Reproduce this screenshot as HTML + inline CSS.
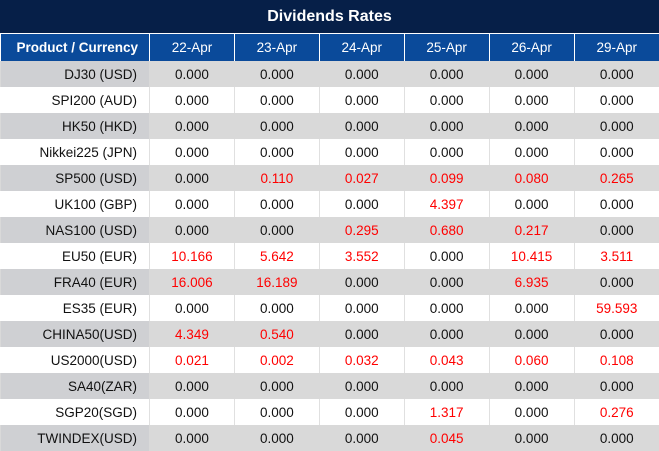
<!DOCTYPE html><html><head><style>
body{margin:0;width:659px;height:451px;overflow:hidden;font-family:"Liberation Sans",sans-serif;background:#fff}
.t{height:34px;background:#061f48;color:#fff;font-weight:bold;font-size:16px;text-align:center;line-height:34px;border-bottom:1px solid #fff;box-sizing:border-box}
table{border-collapse:collapse;table-layout:fixed;width:659px}
td{height:26px;padding:0;font-size:13.5px;text-align:center;border-left:1px solid #e0e0e0;color:#111}
td:first-child{text-align:right;padding-right:12px;border-left:none;width:137px}
tr.h td{background:#0a4a9a;color:#fff;height:27px;border-left:1px solid #fff}
tr.h td:first-child{font-weight:bold;padding-right:11px}
tr.g td{background:#d9d9d9;border-left:1px solid #d9d9d9}
tr.g td:first-child{background:#cfd0d3}
.r{color:#f00}
</style></head><body>
<div class="t">Dividends Rates</div>
<table>
<tr class="h"><td>Product / Currency</td><td>22-Apr</td><td>23-Apr</td><td>24-Apr</td><td>25-Apr</td><td>26-Apr</td><td>29-Apr</td></tr>
<tr class="g"><td>DJ30 (USD)</td><td>0.000</td><td>0.000</td><td>0.000</td><td>0.000</td><td>0.000</td><td>0.000</td></tr>
<tr><td>SPI200 (AUD)</td><td>0.000</td><td>0.000</td><td>0.000</td><td>0.000</td><td>0.000</td><td>0.000</td></tr>
<tr class="g"><td>HK50 (HKD)</td><td>0.000</td><td>0.000</td><td>0.000</td><td>0.000</td><td>0.000</td><td>0.000</td></tr>
<tr><td>Nikkei225 (JPN)</td><td>0.000</td><td>0.000</td><td>0.000</td><td>0.000</td><td>0.000</td><td>0.000</td></tr>
<tr class="g"><td>SP500 (USD)</td><td>0.000</td><td class="r">0.110</td><td class="r">0.027</td><td class="r">0.099</td><td class="r">0.080</td><td class="r">0.265</td></tr>
<tr><td>UK100 (GBP)</td><td>0.000</td><td>0.000</td><td>0.000</td><td class="r">4.397</td><td>0.000</td><td>0.000</td></tr>
<tr class="g"><td>NAS100 (USD)</td><td>0.000</td><td>0.000</td><td class="r">0.295</td><td class="r">0.680</td><td class="r">0.217</td><td>0.000</td></tr>
<tr><td>EU50 (EUR)</td><td class="r">10.166</td><td class="r">5.642</td><td class="r">3.552</td><td>0.000</td><td class="r">10.415</td><td class="r">3.511</td></tr>
<tr class="g"><td>FRA40 (EUR)</td><td class="r">16.006</td><td class="r">16.189</td><td>0.000</td><td>0.000</td><td class="r">6.935</td><td>0.000</td></tr>
<tr><td>ES35 (EUR)</td><td>0.000</td><td>0.000</td><td>0.000</td><td>0.000</td><td>0.000</td><td class="r">59.593</td></tr>
<tr class="g"><td>CHINA50(USD)</td><td class="r">4.349</td><td class="r">0.540</td><td>0.000</td><td>0.000</td><td>0.000</td><td>0.000</td></tr>
<tr><td>US2000(USD)</td><td class="r">0.021</td><td class="r">0.002</td><td class="r">0.032</td><td class="r">0.043</td><td class="r">0.060</td><td class="r">0.108</td></tr>
<tr class="g"><td>SA40(ZAR)</td><td>0.000</td><td>0.000</td><td>0.000</td><td>0.000</td><td>0.000</td><td>0.000</td></tr>
<tr><td>SGP20(SGD)</td><td>0.000</td><td>0.000</td><td>0.000</td><td class="r">1.317</td><td>0.000</td><td class="r">0.276</td></tr>
<tr class="g"><td>TWINDEX(USD)</td><td>0.000</td><td>0.000</td><td>0.000</td><td class="r">0.045</td><td>0.000</td><td>0.000</td></tr>
</table>
</body></html>
